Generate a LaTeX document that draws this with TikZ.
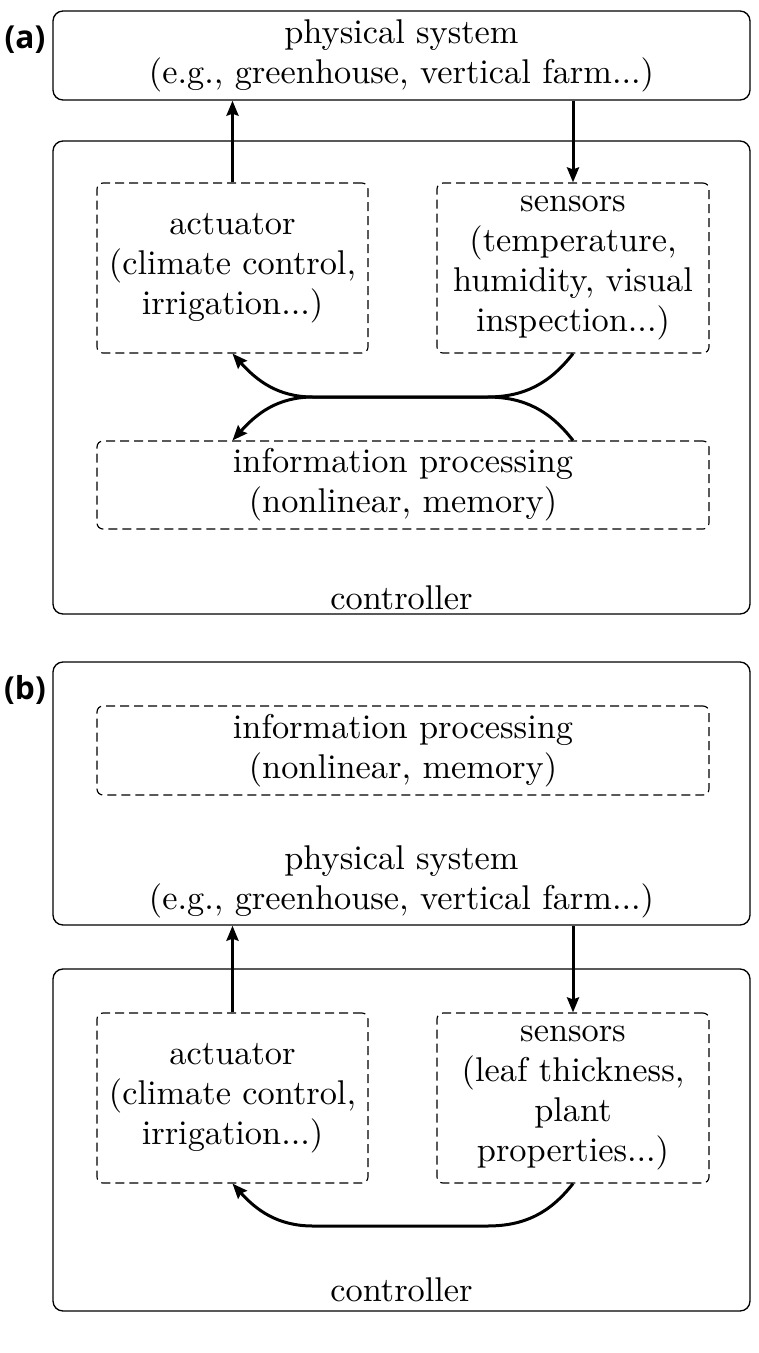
\documentclass[tikz,border=0pt]{standalone}
\usepackage{fontspec}
\newfontfamily\labelfont{Open Sans}
\usetikzlibrary{arrows.meta}
\begin{document}
\begin{tikzpicture}[x=0.3pt,y=-0.3pt,
  solidbox/.style={draw, line width=0.4pt, rounded corners=3pt, inner sep=0pt},
  dashbox/.style={draw, line width=0.35pt, rounded corners=1.8pt, dash pattern=on 2.7pt off 1.5pt, inner sep=0pt, align=center, font=\fontsize{10.3}{12}\selectfont},
  txt/.style={align=center, inner sep=0pt, font=\fontsize{10.3}{12}\selectfont},
  panel/.style={font=\labelfont\bfseries\fontsize{9.5}{11}\selectfont, inner sep=0pt},
  flow/.style={line width=0.9pt, -{Stealth[length=4.5pt,width=3.6pt,inset=0.6pt]}},
  link/.style={line width=0.9pt}
]
\useasboundingbox (0,0) rectangle (759,1353);

% ---------- (a) ----------
\node[panel] (la) at (25,40) {(a)};
\node[solidbox, minimum width=209.1pt, minimum height=26.7pt] (physa) at (401.5,55.5) {};
\node[txt] (physatxt) at (401.5,56) {physical system\\(e.g., greenhouse, vertical farm...)};
\node[solidbox, minimum width=209.1pt, minimum height=141.9pt] (ctrla) at (401.5,377.5) {};
\node[txt] (ctrlatxt) at (401.5,598) {controller};
\node[dashbox, minimum width=81.3pt, minimum height=51pt] (acta) at (232.5,268) {actuator\\(climate control,\\irrigation...)};
\node[dashbox, minimum width=81.6pt, minimum height=51pt] (sensa) at (573,268) {sensors\\(temperature,\\humidity, visual\\inspection...)};
\node[dashbox, minimum width=183.6pt, minimum height=26.4pt] (infoa) at (403,485) {information processing\\(nonlinear, memory)};

\coordinate (ma) at (487,397);
\coordinate (na) at (313,397);
\draw[flow] (acta.north) -- (acta.north |- physa.south);
\draw[flow] (sensa.south |- physa.south) -- (sensa.north -| sensa.south);
\draw[flow] (sensa.south) to[out=-128,in=0] (ma) -- (na) to[out=180,in=-48] (acta.south);
\draw[flow] (sensa.south |- infoa.north) to[out=128,in=0] (ma) -- (na) to[out=180,in=48] (acta.south |- infoa.north);

% ---------- (b) ----------
\node[panel] (lb) at (25,690) {(b)};
\node[solidbox, minimum width=209.1pt, minimum height=78.9pt] (physb) at (401.5,793.5) {};
\node[txt] (physbtxt) at (401.5,882) {physical system\\(e.g., greenhouse, vertical farm...)};
\node[dashbox, minimum width=183.6pt, minimum height=26.7pt] (infob) at (403,750.5) {information processing\\(nonlinear, memory)};
\node[solidbox, minimum width=209.1pt, minimum height=102.6pt] (ctrlb) at (401.5,1140) {};
\node[txt] (ctrlbtxt) at (401.5,1290) {controller};
\node[dashbox, minimum width=81.3pt, minimum height=51pt] (actb) at (232.5,1098) {actuator\\(climate control,\\irrigation...)};
\node[dashbox, minimum width=81.6pt, minimum height=51pt] (sensb) at (573,1098) {sensors\\(leaf thickness,\\plant\\properties...)};

\coordinate (mb) at (487,1226);
\coordinate (nb) at (313,1226);
\draw[flow] (actb.north) -- (actb.north |- physb.south);
\draw[flow] (sensb.south |- physb.south) -- (sensb.north);
\draw[flow] (sensb.south) to[out=-128,in=0] (mb) -- (nb) to[out=180,in=-48] (actb.south);
\end{tikzpicture}
\end{document}
